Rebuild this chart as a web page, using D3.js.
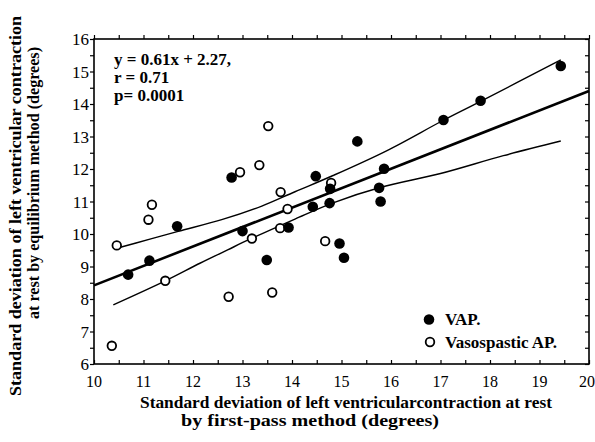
<!DOCTYPE html>
<html>
<head>
<meta charset="utf-8">
<script src="https://cdn.jsdelivr.net/npm/d3@7"></script>
<style>
  body { margin: 0; background: #fff; }
  svg { display: block; }
</style>
</head>
<body>
<svg id="chart" width="595" height="442" font-family="'Liberation Serif', 'DejaVu Serif', serif"></svg>
<script>
// ---- data ----
const xTicks = [10, 11, 12, 13, 14, 15, 16, 17, 18, 19, 20];
const yTicks = [6, 7, 8, 9, 10, 11, 12, 13, 14, 15, 16];

// VAP (filled)
const vapX = [10.69, 11.12, 11.68, 12.78, 13.0, 13.49, 13.93, 14.42, 14.48, 14.77, 14.76, 14.96, 15.05, 15.32, 15.86, 15.76, 15.79, 17.06, 17.81, 19.43];
const vapY = [8.75, 9.18, 10.24, 11.74, 10.09, 9.2, 10.2, 10.84, 11.78, 11.39, 10.95, 9.71, 9.27, 12.85, 12.01, 11.42, 11.0, 13.51, 14.1, 15.17];

// Vasospastic AP (open)
const vsaX = [10.36, 10.46, 11.10, 11.17, 11.44, 12.72, 12.95, 13.19, 13.34, 13.52, 13.6, 13.77, 13.91, 13.76, 14.67, 14.79];
const vsaY = [6.56, 9.65, 10.44, 10.9, 8.56, 8.07, 11.9, 9.86, 12.12, 13.32, 8.2, 11.29, 10.77, 10.18, 9.78, 11.57];

// regression line end points (as drawn)
const regX = [10, 20];
const regY = [8.42, 14.4];

// confidence band curves
const upperX = [10.46, 11.13, 11.70, 12.58, 13.39, 14.06, 14.83, 15.91, 17.06, 17.81, 19.43];
const upperY = [9.56, 9.84, 10.08, 10.44, 10.86, 11.3, 11.8, 12.56, 13.5, 14.08, 15.36];
const lowerX = [10.39, 11.43, 12.14, 12.71, 13.15, 14.06, 14.83, 15.78, 17.0, 18.27, 19.43];
const lowerY = [7.82, 8.55, 9.1, 9.52, 9.84, 10.46, 10.96, 11.43, 11.86, 12.41, 12.86];

const annotation = ["y = 0.61x + 2.27,", "r = 0.71", "p= 0.0001"];
const legendLabels = ["VAP.", "Vasospastic AP."];
const xTitle = ["Standard deviation of left ventricularcontraction at rest", "by first-pass method (degrees)"];
const yTitle = ["Standard deviation of left ventricular contraction", "at rest by equilibrium method (degrees)"];

// ---- layout ----
const L = 94, R = 589, T = 39, B = 364;
const svg = d3.select("#chart");
const x = d3.scaleLinear().domain([10, 20]).range([L, R]);
const y = d3.scaleLinear().domain([6, 16]).range([B, T]);

const minorX = d3.range(10, 20.01, 0.5);
const minorY = d3.range(6, 16.01, 0.5);

// frame
svg.append("rect").attr("x", L).attr("y", T).attr("width", R - L).attr("height", B - T)
  .attr("fill", "none").attr("stroke", "#000").attr("stroke-width", 1.6);

// bottom axis (ticks inward) with labels
const gBottom = svg.append("g").attr("transform", `translate(0,${B})`)
  .call(d3.axisBottom(x).tickValues(minorX).tickSize(-4).tickFormat(""));
gBottom.select(".domain").remove();
gBottom.selectAll("line").attr("stroke-width", 1.2);
svg.append("g").selectAll("text").data(xTicks).join("text")
  .attr("x", d => d === 20 ? 595 : x(d)).attr("y", B + 23)
  .attr("text-anchor", d => d === 20 ? "end" : "middle")
  .attr("font-size", 16).text(d => d);

// top axis (ticks outward)
const gTop = svg.append("g").attr("transform", `translate(0,${T})`)
  .call(d3.axisTop(x).tickValues(minorX).tickSize(4).tickFormat(""));
gTop.select(".domain").remove();
gTop.selectAll("line").attr("stroke-width", 1.2);

// left axis (ticks outward) with labels
const gLeft = svg.append("g").attr("transform", `translate(${L},0)`)
  .call(d3.axisLeft(y).tickValues(minorY).tickSize(4).tickFormat(""));
gLeft.select(".domain").remove();
gLeft.selectAll("line").attr("stroke-width", 1.2);
svg.append("g").selectAll("text").data(yTicks).join("text")
  .attr("x", L - 5).attr("y", d => y(d) + 6).attr("text-anchor", "end")
  .attr("font-size", 17).text(d => d);

// right axis (ticks inward)
const gRight = svg.append("g").attr("transform", `translate(${R},0)`)
  .call(d3.axisRight(y).tickValues(minorY).tickSize(-4).tickFormat(""));
gRight.select(".domain").remove();
gRight.selectAll("line").attr("stroke-width", 1.2);

// d3 axes set their own font-family on the group; remove it so the svg font applies
svg.selectAll("g").attr("font-family", null);

// lines
const line = d3.line().x(d => x(d[0])).y(d => y(d[1])).curve(d3.curveCatmullRom.alpha(0.5));
svg.append("path").datum(d3.zip(upperX, upperY)).attr("d", line)
  .attr("fill", "none").attr("stroke", "#000").attr("stroke-width", 1.4);
svg.append("path").datum(d3.zip(lowerX, lowerY)).attr("d", line)
  .attr("fill", "none").attr("stroke", "#000").attr("stroke-width", 1.4);
svg.append("path").datum(d3.zip(regX, regY)).attr("d", d3.line().x(d => x(d[0])).y(d => y(d[1])))
  .attr("fill", "none").attr("stroke", "#000").attr("stroke-width", 2.6);

// points
svg.append("g").selectAll("circle").data(d3.zip(vsaX, vsaY)).join("circle")
  .attr("cx", d => x(d[0])).attr("cy", d => y(d[1])).attr("r", 4.3)
  .attr("fill", "#fff").attr("stroke", "#000").attr("stroke-width", 1.8);
svg.append("g").selectAll("circle").data(d3.zip(vapX, vapY)).join("circle")
  .attr("cx", d => x(d[0])).attr("cy", d => y(d[1])).attr("r", 5.3)
  .attr("fill", "#000");

// annotation
svg.append("g").selectAll("text").data(annotation).join("text")
  .attr("x", 114).attr("y", (d, i) => 65 + i * 18)
  .attr("font-size", 17).attr("font-weight", "bold").text(d => d);

// legend
svg.append("circle").attr("cx", 429).attr("cy", 319.5).attr("r", 5.3).attr("fill", "#000");
svg.append("circle").attr("cx", 430).attr("cy", 342).attr("r", 4.3)
  .attr("fill", "#fff").attr("stroke", "#000").attr("stroke-width", 1.8);
svg.append("g").selectAll("text").data(legendLabels).join("text")
  .attr("x", 445).attr("y", (d, i) => 325 + i * 23)
  .attr("font-size", 17).attr("font-weight", "bold").text(d => d);

// x title
svg.append("text").attr("x", 346).attr("y", 408).attr("text-anchor", "middle")
  .attr("font-size", 16).attr("font-weight", "bold")
  .attr("textLength", 412).attr("lengthAdjust", "spacingAndGlyphs").text(xTitle[0]);
svg.append("text").attr("x", 310).attr("y", 426).attr("text-anchor", "middle")
  .attr("font-size", 16).attr("font-weight", "bold")
  .attr("textLength", 258).attr("lengthAdjust", "spacingAndGlyphs").text(xTitle[1]);

// y title
svg.append("text").attr("transform", "translate(21,206) rotate(-90)").attr("text-anchor", "middle")
  .attr("font-size", 16).attr("font-weight", "bold")
  .attr("textLength", 380).attr("lengthAdjust", "spacingAndGlyphs").text(yTitle[0]);
svg.append("text").attr("transform", "translate(39,183) rotate(-90)").attr("text-anchor", "middle")
  .attr("font-size", 16).attr("font-weight", "bold")
  .attr("textLength", 272).attr("lengthAdjust", "spacingAndGlyphs").text(yTitle[1]);
</script>
</body>
</html>
